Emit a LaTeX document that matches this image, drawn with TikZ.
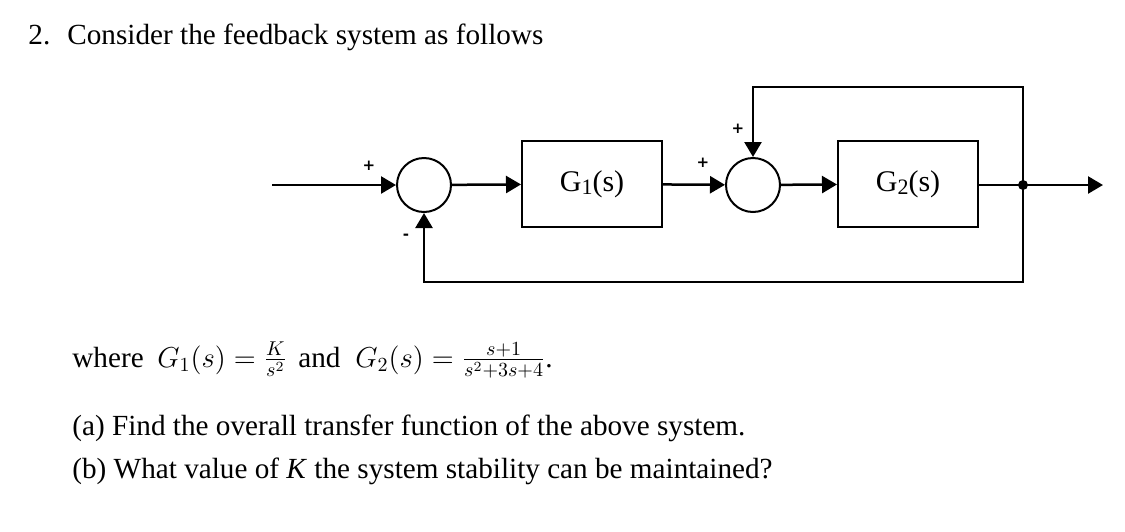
\documentclass[tikz,border=0pt]{standalone}
\usepackage{fontspec}
\setmainfont{Liberation Serif}
\newfontfamily\signfont{DejaVu Sans}
\usetikzlibrary{arrows.meta, positioning}

\tikzset{
  sig/.style={line width=1.25pt, -{Triangle[length=7.5pt, width=8.5pt]}},
  sumnode/.style={circle, draw, line width=1pt, minimum size=27pt, inner sep=0pt},
  blocknode/.style={rectangle, draw, line width=1pt, minimum width=70pt, minimum height=43pt, inner sep=0pt, font=\fontsize{15}{18}\selectfont},
  signlbl/.style={inner sep=0pt, font=\signfont\fontsize{7.5}{8}\selectfont\bfseries},
  txt/.style={anchor=base west, inner sep=0pt, font=\fontsize{14.6}{17}\selectfont},
}
\newcommand{\blk}[1]{G\raisebox{-0.12em}{\fontsize{11}{12}\selectfont #1}(s)}

\begin{document}
\begin{tikzpicture}[x=0.5pt,y=0.5pt,yscale=-1,xscale=1]
\useasboundingbox (0,0) rectangle (1125,531);

% Text Node
\node[txt] (num) at (28,44) {2.};
\node[txt] (title) at (67,44) {Consider the feedback system as follows};

% blocks
\node[sumnode] (sumA) at (424,185) {};
\node[blocknode] (gOne) at (592,184) {\blk{1}};
\node[sumnode] (sumB) at (753,185) {};
\node[blocknode] (gTwo) at (908,184) {\blk{2}};
\fill (1023,185) circle [radius=5] coordinate (junc);

\coordinate (in) at (272,185);
\coordinate (out) at (1103,185);
\coordinate (topB) at (753,87);
\coordinate (botA) at (424,282);

% signals
\draw[sig] (in) -- (sumA);
\draw[sig] (sumA) -- (gOne);
\draw[sig] (gOne) -- (sumB);
\draw[sig] (sumB) -- (gTwo);
\draw[sig] (gTwo.east |- junc) -- (out);
\draw[sig] (junc) |- (topB) -- (sumB);
\draw[sig] (junc) |- (botA) -- (sumA);

% signs
\node[signlbl] (pA) at (369,166) {+};
\node[signlbl] (mA) at (406,237) {-};
\node[signlbl] (pB) at (703,163) {+};
\node[signlbl] (pC) at (738,129) {+};

% Text Node
\node[txt] (where) at (72,367) {where};
\node[txt] (eqOne) at (157,367) {$G_1(s)=\frac{K}{s^2}$};
\node[txt] (and) at (298,367) {and};
\node[txt] (eqTwo) at (355,367) {$G_2(s)=\frac{s+1}{s^2+3s+4}$.};
\node[txt] (qa) at (72,435) {(a) Find the overall transfer function of the above system.};
\node[txt] (qb) at (72,478) {(b) What value of \emph{K} the system stability can be maintained?};

\end{tikzpicture}
\end{document}
